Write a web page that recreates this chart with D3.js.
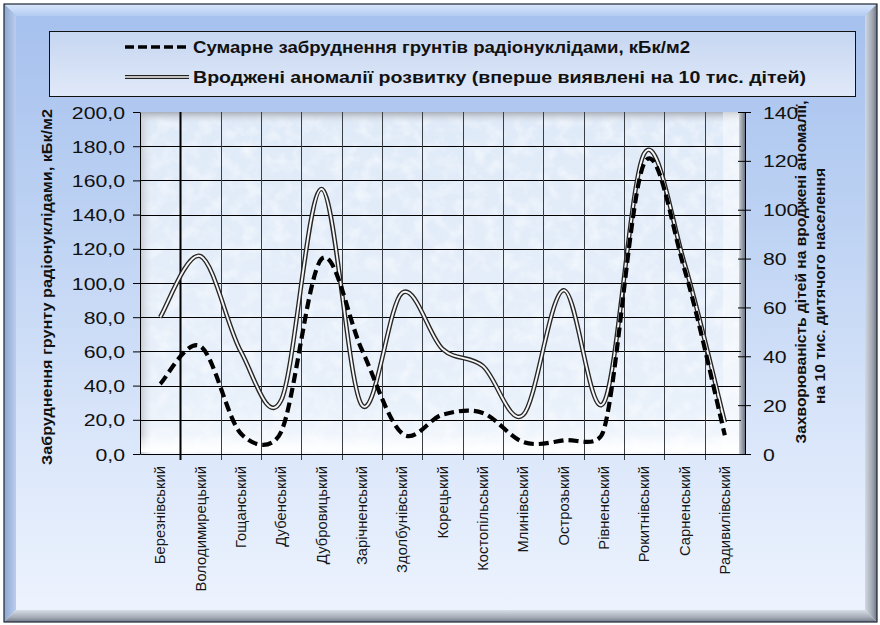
<!DOCTYPE html>
<html lang="uk">
<head>
<meta charset="utf-8">
<script src="https://cdn.jsdelivr.net/npm/d3@7"></script>
<style>
  html, body { margin: 0; padding: 0; background: #ffffff; }
  svg { display: block; }
  text { font-family: "Liberation Sans", Arial, sans-serif; }
</style>
</head>
<body>
<svg id="chart" width="880" height="625"></svg>
<script>
// Райони Рівненської області
const districts = [
  "Березнівський", "Володимирецький", "Гощанський", "Дубенський", "Дубровицький",
  "Зарічненський", "Здолбунівський", "Корецький", "Костопільський", "Млинівський",
  "Острозький", "Рівненський", "Рокитнівський", "Сарненський", "Радивилівський"
];
// Сумарне забруднення ґрунтів радіонуклідами, кБк/м2 (ліва вісь)
const contamination = [41, 63, 12, 13, 114, 61, 12, 23, 24, 7, 8, 14, 170, 108, 11];
// Вроджені аномалії розвитку на 10 тис. дітей (права вісь)
const anomalies = [56, 81, 42, 22, 108.5, 20, 66, 43, 36, 16, 67, 21, 123, 78, 13];

const leftTicks = [0, 20, 40, 60, 80, 100, 120, 140, 160, 180, 200];
const rightTicks = [0, 20, 40, 60, 80, 100, 120, 140];

const legendLabels = [
  "Сумарне забруднення грунтів радіонуклідами, кБк/м2",
  "Вроджені аномалії розвитку (вперше виявлені на 10 тис. дітей)"
];
const leftTitle = "Забруднення грунту радіонуклідами, кБк/м2";
const rightTitle = ["Захворюваність дітей на вроджені аномалії,", "на 10 тис. дитячого населення"];

const svg = d3.select("#chart");
const W = 880, H = 625;
const plot = { left: 140, right: 745, top: 112, bottom: 454 };

const defs = svg.append("defs");
function vGrad(id, stops, x1 = 0, y1 = 0, x2 = 0, y2 = 1) {
  const g = defs.append("linearGradient").attr("id", id)
    .attr("x1", x1).attr("y1", y1).attr("x2", x2).attr("y2", y2);
  stops.forEach(([o, c]) => g.append("stop").attr("offset", o).attr("stop-color", c));
}
vGrad("bgFill", [[0, "#a5c0ee"], [0.35, "#bdd2f3"], [0.7, "#dae6fa"], [1, "#eef4fe"]]);
vGrad("legFill", [[0, "#c6d6f1"], [1, "#e0e9f8"]]);
vGrad("bevTop", [[0, "#d9e7fb"], [1, "#b3cbf1"]]);
vGrad("bevLeft", [[0, "#8ea6cf"], [1, "#b9cdee"]], 0, 0, 1, 0);
vGrad("bevRight", [[0, "#d3d9e2"], [0.6, "#a2a9b4"], [1, "#6f7682"]], 0, 0, 1, 0);
vGrad("bevBottom", [[0, "#d8dde5"], [0.6, "#a6adb8"], [1, "#737a86"]]);
vGrad("plotFill", [[0, "#dfeaf8"], [0.85, "#e8f0fa"], [1, "#f4f8fd"]]);
vGrad("pLeft", [[0, "#c2c7cf"], [1, "rgba(230,236,245,0)"]], 0, 0, 1, 0);
vGrad("pTop", [[0, "#a9afb8"], [1, "rgba(225,232,242,0)"]]);
vGrad("pBottom", [[0, "rgba(255,255,255,0)"], [1, "#ffffff"]]);
vGrad("pRight", [[0, "#c9ced6"], [1, "#6e7580"]], 0, 0, 1, 0);

const mottle = defs.append("filter").attr("id", "mottle")
  .attr("x", 0).attr("y", 0).attr("width", 1).attr("height", 1);
mottle.append("feTurbulence").attr("type", "fractalNoise")
  .attr("baseFrequency", "0.07").attr("numOctaves", 3).attr("seed", 7).attr("result", "n");
mottle.append("feColorMatrix").attr("in", "n").attr("type", "matrix")
  .attr("values", "0 0 0 0 1  0 0 0 0 1  0 0 0 0 1  2.2 0 0 0 -0.95");

// Зовнішня рамка з фасками
const o = { l: 4, t: 4, r: 877, b: 622, w: 12 };
svg.append("rect").attr("width", W).attr("height", H).attr("fill", "#ffffff");
svg.append("rect").attr("x", o.l).attr("y", o.t).attr("width", o.r - o.l).attr("height", o.b - o.t)
  .attr("fill", "url(#bgFill)");
const poly = (pts, fill) => svg.append("polygon").attr("points", pts.map(p => p.join(",")).join(" ")).attr("fill", fill);
poly([[o.l, o.t], [o.r, o.t], [o.r - o.w, o.t + o.w], [o.l + o.w, o.t + o.w]], "url(#bevTop)");
poly([[o.l, o.t], [o.l + o.w, o.t + o.w], [o.l + o.w, o.b - o.w], [o.l, o.b]], "url(#bevLeft)");
poly([[o.l, o.b], [o.l + o.w, o.b - o.w], [o.r - o.w, o.b - o.w], [o.r, o.b]], "url(#bevBottom)");
poly([[o.r, o.t], [o.r - o.w, o.t + o.w], [o.r - o.w, o.b - o.w], [o.r, o.b]], "url(#bevRight)");
svg.append("rect").attr("x", o.l).attr("y", o.t).attr("width", o.r - o.l).attr("height", o.b - o.t)
  .attr("fill", "none").attr("stroke", "#1d2735").attr("stroke-width", 1.2);

// Легенда
svg.append("rect").attr("x", 49.5).attr("y", 31.5).attr("width", 806).attr("height", 65)
  .attr("fill", "url(#legFill)").attr("stroke", "#111").attr("stroke-width", 1);
const leg = svg.append("g");
leg.append("line").attr("x1", 125).attr("x2", 189).attr("y1", 47).attr("y2", 47)
  .attr("stroke", "#000").attr("stroke-width", 3.5).attr("stroke-dasharray", "9,4");
leg.append("line").attr("x1", 125).attr("x2", 189).attr("y1", 77).attr("y2", 77)
  .attr("stroke", "#222").attr("stroke-width", 4);
leg.append("line").attr("x1", 125).attr("x2", 189).attr("y1", 77).attr("y2", 77)
  .attr("stroke", "#f6f6f6").attr("stroke-width", 1.6);
leg.selectAll("text.leg").data(legendLabels).join("text")
  .attr("class", "leg")
  .attr("x", 193).attr("y", (d, i) => 53 + i * 30)
  .attr("font-size", 16).attr("font-weight", "bold").attr("fill", "#111")
  .attr("textLength", (d, i) => i === 0 ? 497 : 613)
  .attr("lengthAdjust", "spacingAndGlyphs")
  .text(d => d);

// Шкали
const x = d3.scaleBand().domain(districts).range([plot.left, plot.right]).padding(0);
const yL = d3.scaleLinear().domain([0, 200]).range([plot.bottom, plot.top]);
const yR = d3.scaleLinear().domain([0, 140]).range([plot.bottom, plot.top]);
const cx = d => x(d) + x.bandwidth() / 2;

// Область побудови
const pw = plot.right - plot.left, ph = plot.bottom - plot.top;
svg.append("rect").attr("x", plot.left).attr("y", plot.top).attr("width", pw).attr("height", ph)
  .attr("fill", "url(#plotFill)");
svg.append("rect").attr("x", plot.left).attr("y", plot.top).attr("width", pw).attr("height", ph)
  .attr("fill", "#fff").attr("filter", "url(#mottle)").attr("opacity", 0.55);
svg.append("rect").attr("x", plot.left).attr("y", plot.top).attr("width", 13).attr("height", ph)
  .attr("fill", "url(#pLeft)");
svg.append("rect").attr("x", plot.left).attr("y", plot.top).attr("width", pw).attr("height", 12)
  .attr("fill", "url(#pTop)");
svg.append("rect").attr("x", plot.left).attr("y", plot.bottom - 20).attr("width", pw).attr("height", 18)
  .attr("fill", "url(#pBottom)");
svg.append("rect").attr("x", plot.right - 22).attr("y", plot.top).attr("width", 17).attr("height", ph)
  .attr("fill", "#ffffff").attr("opacity", 0.45);
svg.append("rect").attr("x", plot.right - 6).attr("y", plot.top).attr("width", 6).attr("height", ph)
  .attr("fill", "url(#pRight)");

// Сітка
const grid = svg.append("g");
grid.selectAll("line.h").data(leftTicks.filter(t => t > 0 && t < 200)).join("line")
  .attr("class", "h")
  .attr("x1", plot.left).attr("x2", plot.right - 4)
  .attr("y1", d => Math.round(yL(d)) + 0.5).attr("y2", d => Math.round(yL(d)) + 0.5)
  .attr("stroke", "#000").attr("stroke-width", 1.1);
const bounds = districts.slice(1).map(d => x(d));
grid.selectAll("line.v").data(bounds).join("line")
  .attr("class", "v")
  .attr("x1", d => Math.round(d) + 0.5).attr("x2", d => Math.round(d) + 0.5)
  .attr("y1", plot.top).attr("y2", plot.bottom + 6)
  .attr("stroke", (d, i) => i === 0 ? "#000" : "#3a3f46")
  .attr("stroke-width", (d, i) => i === 0 ? 2 : 1);

// Осі
const sx = 1.25;
const fmt = d => d3.format(".1f")(d).replace(".", ",");
const axL = svg.append("g").attr("transform", `translate(${plot.left},0)`)
  .call(d3.axisLeft(yL).tickValues(leftTicks).tickFormat(fmt).tickSize(7).tickSizeOuter(0));
axL.select(".domain").attr("stroke", "#000");
axL.selectAll(".tick line").attr("stroke", "#000");
axL.selectAll(".tick text")
  .attr("font-family", "'Liberation Sans', Arial, sans-serif")
  .attr("font-size", 17).attr("fill", "#111")
  .attr("x", -15 / sx).attr("dy", "0.36em")
  .attr("transform", `scale(${sx},1)`);

const axR = svg.append("g").attr("transform", `translate(${plot.right},0)`)
  .call(d3.axisRight(yR).tickValues(rightTicks).tickFormat(d3.format("d")).tickSizeInner(6).tickSizeOuter(0));
axR.select(".domain").attr("stroke", "#000");
axR.selectAll(".tick line").attr("stroke", "#000").attr("x1", -7);
axR.selectAll(".tick text")
  .attr("font-family", "'Liberation Sans', Arial, sans-serif")
  .attr("font-size", 17).attr("fill", "#111")
  .attr("x", 18 / sx).attr("dy", "0.36em")
  .attr("transform", `scale(${sx},1)`);

const axB = svg.append("g").attr("transform", `translate(0,${plot.bottom})`)
  .call(d3.axisBottom(x).tickSize(0).tickSizeOuter(0));
axB.select(".domain").attr("stroke", "#000").attr("stroke-width", 1.2);
axB.selectAll(".tick text")
  .attr("font-family", "'Liberation Sans', Arial, sans-serif")
  .attr("font-size", 14.8).attr("fill", "#161616")
  .attr("text-anchor", "end")
  .attr("transform", "rotate(-90)")
  .attr("x", -12).attr("y", 0).attr("dy", "0.36em");

// Назви осей
svg.append("text")
  .attr("transform", `translate(52,${(108 + 466) / 2}) rotate(-90)`)
  .attr("text-anchor", "middle")
  .attr("font-size", 15).attr("font-weight", "bold").attr("fill", "#111")
  .attr("textLength", 356).attr("lengthAdjust", "spacingAndGlyphs")
  .text(leftTitle);
svg.selectAll("text.rt").data(rightTitle).join("text")
  .attr("class", "rt")
  .attr("transform", (d, i) => `translate(${806 + i * 19},${i === 0 ? 272 : 286}) rotate(-90)`)
  .attr("text-anchor", "middle")
  .attr("font-size", 15).attr("font-weight", "bold").attr("fill", "#111")
  .attr("textLength", (d, i) => i === 0 ? 343 : 236).attr("lengthAdjust", "spacingAndGlyphs")
  .text(d => d);

// Згладжена крива: кубічні Безьє з дотичними Катмулла–Рома;
// відстань до контрольної точки не перевищує половини сусідньої хорди
function smoothCurve(context) {
  return {
    areaStart() {}, areaEnd() {},
    lineStart() { this._p = []; },
    point(px, py) { this._p.push([+px, +py]); },
    lineEnd() {
      const p = this._p, n = p.length;
      if (!n) return;
      context.moveTo(p[0][0], p[0][1]);
      if (n === 1) return;
      const dist = (a, b) => Math.hypot(b[0] - a[0], b[1] - a[1]);
      const cap = 0.5;
      const cin = [], cout = [];
      for (let i = 0; i < n; i++) {
        const a = p[Math.max(0, i - 1)], b = p[i], c = p[Math.min(n - 1, i + 1)];
        const tx = (c[0] - a[0]) / 6, ty = (c[1] - a[1]) / 6;
        const tl = Math.hypot(tx, ty) || 1;
        const kin = Math.min(1, cap * dist(a, b) / tl);
        const kout = Math.min(1, cap * dist(b, c) / tl);
        cin[i] = [b[0] - tx * kin, b[1] - ty * kin];
        cout[i] = [b[0] + tx * kout, b[1] + ty * kout];
      }
      for (let i = 1; i < n; i++) {
        context.bezierCurveTo(cout[i - 1][0], cout[i - 1][1], cin[i][0], cin[i][1], p[i][0], p[i][1]);
      }
    }
  };
}

// Лінії
const lineL = d3.line().x((d, i) => cx(districts[i])).y(d => yL(d)).curve(smoothCurve);
const lineR = d3.line().x((d, i) => cx(districts[i])).y(d => yR(d)).curve(smoothCurve);

svg.append("path").datum(anomalies).attr("d", lineR)
  .attr("fill", "none").attr("stroke", "#262626").attr("stroke-width", 4.6);
svg.append("path").datum(anomalies).attr("d", lineR)
  .attr("fill", "none").attr("stroke", "#f7f7f7").attr("stroke-width", 1.9);

svg.append("path").datum(contamination).attr("d", lineL)
  .attr("fill", "none").attr("stroke", "#000").attr("stroke-width", 4.2)
  .attr("stroke-dasharray", "10,5");
</script>
</body>
</html>
